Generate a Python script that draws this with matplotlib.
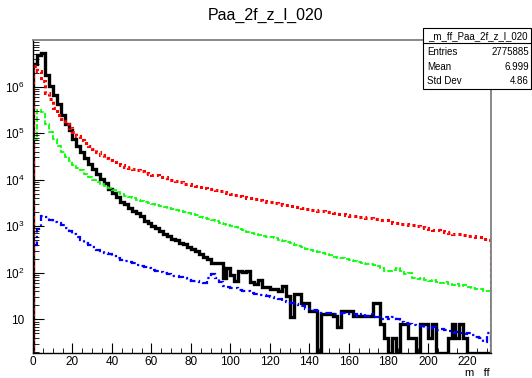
import numpy as np
import matplotlib
matplotlib.use("Agg")
import matplotlib.pyplot as plt
from matplotlib.patches import Rectangle
from matplotlib.lines import Line2D
from matplotlib.ticker import FixedLocator, FixedFormatter, LogLocator, MultipleLocator, NullFormatter

plt.rcParams['font.family'] = ['Liberation Sans', 'DejaVu Sans']
plt.rcParams['mathtext.fontset'] = 'custom'
plt.rcParams['mathtext.rm'] = 'Liberation Sans'

#%% Dados

titulo = "Paa_2f_z_l_020"
nome_hist = "_m_ff_Paa_2f_z_l_020"
stats_nomes = ["Entries", "Mean", "Std Dev"]
stats_valores = ["2775885", "6.999", "4.86"]
eixo_x = "m   ff"

x_min, x_max, largura_bin = 0, 232, 2

# contagens por bin (116 bins de largura 2)
preto = [3020000, 4790000, 5130000, 1740000, 1050000, 661000, 417000, 240000, 158000, 115000,
         75900, 52500, 39800, 29500, 21400, 16600, 13200, 10200, 8320, 6310,
         5250, 4170, 3390, 2950, 2510, 2140, 1910, 1660, 1320, 1170,
         1000, 933, 794, 692, 631, 537, 501, 437, 417, 355,
         331, 295, 251, 224, 200, 166, 166, 166, 76, 126,
         89, 68, 112, 105, 112, 63, 58, 71, 50, 50,
         45, 45, 40, 52, 32, 11, 35, 35, 22, 22,
         15, 15, 0, 13, 13, 13, 12, 7, 15, 15,
         15, 12, 12, 12, 12, 12, 22, 22, 8, 4,
         0, 4, 0, 8, 8, 4, 4, 0, 8, 8,
         4, 8, 0, 0, 0, 4, 8, 4, 8, 4,
         0, 0, 0, 0, 0, 0]

vermelho = [2700000, 2200000, 1300000, 741000, 550000, 355000, 251000, 204000, 158000, 126000,
            105000, 85100, 70800, 60300, 52500, 45700, 38900, 33100, 29500, 26300,
            24000, 21900, 20400, 19000, 17800, 17000, 15800, 15100, 14100, 13500,
            12900, 12500, 11400, 11200, 10100, 9650, 9200, 8800, 8250, 8000,
            7760, 7410, 7080, 6760, 6460, 6170, 6030, 5620, 5500, 5250,
            4900, 4680, 4570, 4270, 4070, 3980, 3800, 3630, 3550, 3390,
            3240, 3160, 3020, 2880, 2820, 2690, 2630, 2570, 2450, 2400,
            2290, 2240, 2140, 2090, 2000, 2000, 1910, 1860, 1820, 1740,
            1700, 1660, 1620, 1580, 1510, 1480, 1450, 1410, 1380, 1350,
            1260, 1170, 1150, 1120, 1100, 1070, 1050, 1000, 955, 912,
            891, 851, 813, 794, 759, 724, 692, 692, 676, 646,
            631, 617, 589, 575, 537, 501]

verde = [70800, 316000, 282000, 158000, 105000, 75900, 52500, 39800, 30200, 25100,
         20900, 18200, 15800, 13200, 11200, 10000, 9120, 8130, 7240, 6610,
         5890, 5370, 4900, 4570, 4270, 3980, 3720, 3550, 3310, 3090,
         2950, 2820, 2690, 2630, 2510, 2400, 2240, 2140, 2040, 1910,
         1820, 1740, 1580, 1510, 1450, 1350, 1290, 1200, 1120, 1070,
         1000, 955, 891, 813, 759, 724, 692, 661, 631, 603,
         575, 550, 513, 479, 457, 427, 398, 380, 355, 331,
         316, 295, 282, 269, 251, 240, 224, 209, 204, 195,
         186, 182, 174, 166, 158, 155, 148, 138, 126, 112,
         107, 115, 126, 110, 95, 100, 79, 74, 79, 71,
         68, 69, 63, 60, 63, 58, 56, 59, 52, 54,
         50, 48, 46, 44, 41, 40]

azul = [398, 891, 1700, 1580, 1380, 1260, 1150, 1050, 933, 794,
        676, 589, 501, 447, 398, 355, 316, 288, 269, 251,
        229, 209, 191, 182, 174, 162, 151, 141, 135, 126,
        117, 110, 105, 100, 93, 87, 85, 81, 76, 71,
        68, 66, 63, 60, 79, 95, 79, 63, 52, 50,
        47, 48, 43, 41, 40, 37, 35, 34, 33, 32,
        30, 29, 27, 25, 24, 22, 21, 20, 19, 17,
        17, 16, 15, 14, 14, 14, 13, 13, 14, 13,
        13, 13, 12, 13, 12, 13, 11, 11, 10, 11,
        10, 11, 10, 9, 8.5, 8, 7.6, 7.2, 7.1, 6.6,
        6.3, 6.8, 6.0, 6.3, 5.8, 5.6, 5.2, 5.5, 5.0, 4.9,
        5.0, 4.6, 4.2, 4.0, 3.2, 5.0]

y_min, y_max = 1.9, 1.0e7

#==============================================================================

bordas = np.arange(x_min, x_max + largura_bin, largura_bin)

fig = plt.figure(figsize=(5.32, 3.78), dpi=100)
ax = fig.add_axes([33/532, 1 - 353/378, 458/532, 313/378])

curvas = [(preto, 'black', '-', 2.4),
          (vermelho, '#ff0000', (0, (1, 1)), 2.2),
          (verde, '#00ff00', (0, (3, 1.2)), 1.3),
          (azul, '#0000ff', (0, (3, 1.5, 1, 1.5)), 1.6)]

for valores, cor, estilo, lw in curvas:
    v = np.array(valores, dtype=float)
    v = np.where(v > 0, v, y_min)
    ax.stairs(v, bordas, baseline=y_min, color=cor, linestyle=estilo, lw=lw)

ax.set_xlim(x_min, x_max)
ax.set_yscale('log')
ax.set_ylim(y_min, y_max)

ax.xaxis.set_major_locator(MultipleLocator(20))
ax.xaxis.set_minor_locator(MultipleLocator(5))
ax.yaxis.set_major_locator(FixedLocator([10, 1e2, 1e3, 1e4, 1e5, 1e6]))
ax.yaxis.set_major_formatter(FixedFormatter(["10"] + [r"$\mathregular{10^{%d}}$" % k for k in range(2, 7)]))
ax.yaxis.set_minor_locator(LogLocator(base=10, subs=np.arange(2, 10), numticks=20))
ax.yaxis.set_minor_formatter(NullFormatter())

ax.tick_params(which='both', direction='in', top=False, right=False, colors='black', labelsize=8.5)
ax.tick_params(axis='y', which='major', length=8, pad=6)
ax.tick_params(axis='y', which='minor', length=4)
ax.tick_params(axis='x', which='major', length=7, pad=2)
ax.tick_params(axis='x', which='minor', length=3.5)

for lado in ['top', 'right']:
    ax.spines[lado].set_color('#808080')
    ax.spines[lado].set_linewidth(1.3)
for lado in ['left', 'bottom']:
    ax.spines[lado].set_color('black')
    ax.spines[lado].set_linewidth(1.0)

fig.text(0.5, 1 - 15/378, titulo, ha='center', va='center', fontsize=11.5)
fig.text(490/532, 0.0, eixo_x, ha='right', va='bottom', fontsize=8)

# caixa de estatisticas
x0, x1 = 423/532, 531/532
y_topo, y_base, y_linha = 1 - 28/378, 1 - 89/378, 1 - 43/378
fig.add_artist(Rectangle((x0, y_base), x1 - x0, y_topo - y_base, transform=fig.transFigure,
                         facecolor='white', edgecolor='black', lw=0.8, zorder=5))
fig.add_artist(Line2D([x0, x1], [y_linha, y_linha], transform=fig.transFigure,
                      color='black', lw=0.8, zorder=6))
fig.text((x0 + x1)/2 + 1/532, 1 - 36/378, nome_hist, ha='center', va='center', fontsize=7, zorder=7)
for i, (nome, valor) in enumerate(zip(stats_nomes, stats_valores)):
    yy = 1 - (52 + 14.5*i)/378
    fig.text(427/532, yy, nome, ha='left', va='center', fontsize=7, zorder=7)
    fig.text(529/532, yy, valor, ha='right', va='center', fontsize=7, zorder=7)

plt.savefig("out.png", dpi=100)
